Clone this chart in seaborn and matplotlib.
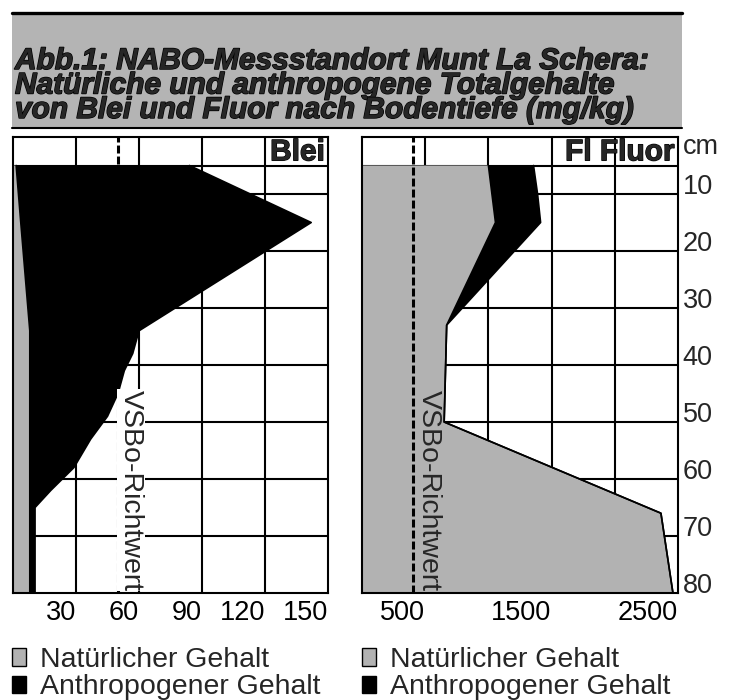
import matplotlib
matplotlib.use("Agg")
import matplotlib.pyplot as plt
from matplotlib import patheffects, transforms
from matplotlib.lines import Line2D
from matplotlib.patches import Patch, Rectangle
import seaborn as sns

# depth (cm) and contents (mg/kg)
depth_pb = [5, 15, 34, 38, 41, 45, 49, 53, 58, 62, 65, 80]
natural_pb = [1.5, 3.7, 8, 8, 8, 8, 8, 8, 8, 8, 8, 8]
total_pb = [84, 142, 60, 57, 53, 50, 45, 37, 29, 18, 10.5, 10.5]

depth_f = [5, 10, 15, 33, 50, 66, 80]
natural_f = [1000, 1028, 1056, 670, 650, 2365, 2460]
total_f = [1357, 1389, 1413, 670, 650, 2365, 2460]

vsbo_pb = 50
vsbo_f = 400

xgrid_pb = [30, 60, 90, 120]
xticks_pb = [30, 60, 90, 120, 150]
xgrid_f = [500, 1000, 1500, 2000]
xticks_f = [500, 1500, 2500]
depth_ticks = [10, 20, 30, 40, 50, 60, 70, 80]

title_lines = [
    "Abb.1: NABO-Messstandort Munt La Schera:",
    "Natürliche und anthropogene Totalgehalte",
    "von Blei und Fluor nach Bodentiefe (mg/kg)",
]
legend_labels = ["Natürlicher Gehalt", "Anthropogener Gehalt"]

GREY = "#b2b2b2"
W, H = 735, 700

sns.set_theme(style="white")
plt.rcParams["font.family"] = ["Liberation Sans", "DejaVu Sans"]

fig = plt.figure(figsize=(W / 100, H / 100), dpi=100)
heavy = [patheffects.withStroke(linewidth=0.9, foreground="black")]


def fig_box(x0, y0, x1, y1):
    # pixel box (top-left origin) -> figure fraction rect
    return [x0 / W, 1 - y1 / H, (x1 - x0) / W, (y1 - y0) / H]


def depth_panel(ax, depth, natural, total, vsbo, xmax, xgrid, xticks, name, text_bg):
    ax.set_xlim(0, xmax)
    ax.set_ylim(80, 0)

    for x in xgrid:
        ax.axvline(x, color="black", lw=1.5, zorder=0.5)
    for d in [5] + depth_ticks[:-1]:
        ax.axhline(d, color="black", lw=1.5, zorder=0.5)

    ax.fill_betweenx(depth, 0, natural, facecolor=GREY, edgecolor="none", zorder=1)
    ax.fill_betweenx(depth, natural, total, facecolor="black", edgecolor="none", zorder=1)
    sns.lineplot(x=natural, y=depth, orient="y", sort=False, estimator=None,
                 color="black", lw=1.2, ax=ax, zorder=2)
    sns.lineplot(x=total, y=depth, orient="y", sort=False, estimator=None,
                 color="black", lw=1.2, ax=ax, zorder=2)

    ax.axvline(vsbo, color="black", lw=2.2, dashes=(2.6, 1.0), zorder=3)
    if text_bg:
        ax.text(vsbo, 79.6, "VSBo-Richtwert", rotation=270, ha="left", va="bottom",
                fontsize=20.5, zorder=4,
                bbox=dict(boxstyle="square,pad=0.02", fc="white", ec="none"))
    else:
        tr = transforms.offset_copy(ax.transData, fig=fig, x=3, y=0, units="dots")
        ax.text(vsbo, 79.6, "VSBo-Richtwert", rotation=270, ha="left", va="bottom",
                fontsize=20.5, zorder=4, transform=tr)

    hdr = transforms.blended_transform_factory(ax.transAxes, ax.transData)
    ax.text(0.99, 2.7, name, transform=hdr, ha="right", va="center",
            fontsize=21.5, fontweight="bold", zorder=4, path_effects=heavy)

    ax.set_xticks(xticks)
    ax.set_xticklabels([str(t) for t in xticks], ha="right")
    ax.set_yticks([])
    ax.tick_params(axis="x", length=0, pad=5, labelsize=19.5, colors="black")
    ax.set_xlabel("")
    ax.set_ylabel("")
    for s in ax.spines.values():
        s.set_visible(True)
        s.set_color("black")
        s.set_linewidth(1.5)


ax_pb = fig.add_axes(fig_box(13, 137, 328, 593))
ax_f = fig.add_axes(fig_box(362, 137, 678, 593))

depth_panel(ax_pb, depth_pb, natural_pb, total_pb, vsbo_pb, 150,
            xgrid_pb, xticks_pb, "Blei", True)
depth_panel(ax_f, depth_f, natural_f, total_f, vsbo_f, 2500,
            xgrid_f, xticks_f, "Fl Fluor", False)

# depth labels on the right of the fluor panel
side = transforms.blended_transform_factory(ax_f.transAxes, ax_f.transData)
ax_f.text(1.015, 2.9, "cm", transform=side, ha="left", va="baseline", fontsize=19.5)
for d in depth_ticks:
    ax_f.text(1.015, d, str(d), transform=side, ha="left", va="baseline", fontsize=19.5)

# title block
fig.patches.append(Rectangle((12 / W, 1 - 128 / H), 670 / W, 115 / H,
                             transform=fig.transFigure, facecolor="#b4b4b4",
                             edgecolor="none", zorder=0))
fig.add_artist(Line2D([12 / W, 682 / W], [1 - 12.5 / H] * 2, color="black", lw=2.4))
fig.add_artist(Line2D([12 / W, 682 / W], [1 - 128 / H] * 2, color="black", lw=1.5))
fig.text(15 / W, 1 - 118 / H, "\n".join(title_lines), ha="left", va="baseline",
         fontsize=21.5, fontweight="bold", fontstyle="italic", linespacing=0.84,
         path_effects=[patheffects.withStroke(linewidth=1.0, foreground="black")])

# legends under each panel
for ax, x0 in [(ax_pb, 12), (ax_f, 362)]:
    handles = [Patch(facecolor=GREY, edgecolor="black", lw=1),
               Patch(facecolor="black", edgecolor="black", lw=1)]
    ax.legend(handles, legend_labels, loc="upper left",
              bbox_to_anchor=(x0 / W, 1 - 647 / H), bbox_transform=fig.transFigure,
              frameon=False, fontsize=20.5, handlelength=0.5, handleheight=0.55,
              handletextpad=0.5, labelspacing=0.05, borderpad=0, borderaxespad=0)

fig.savefig("out.png", dpi=100)
